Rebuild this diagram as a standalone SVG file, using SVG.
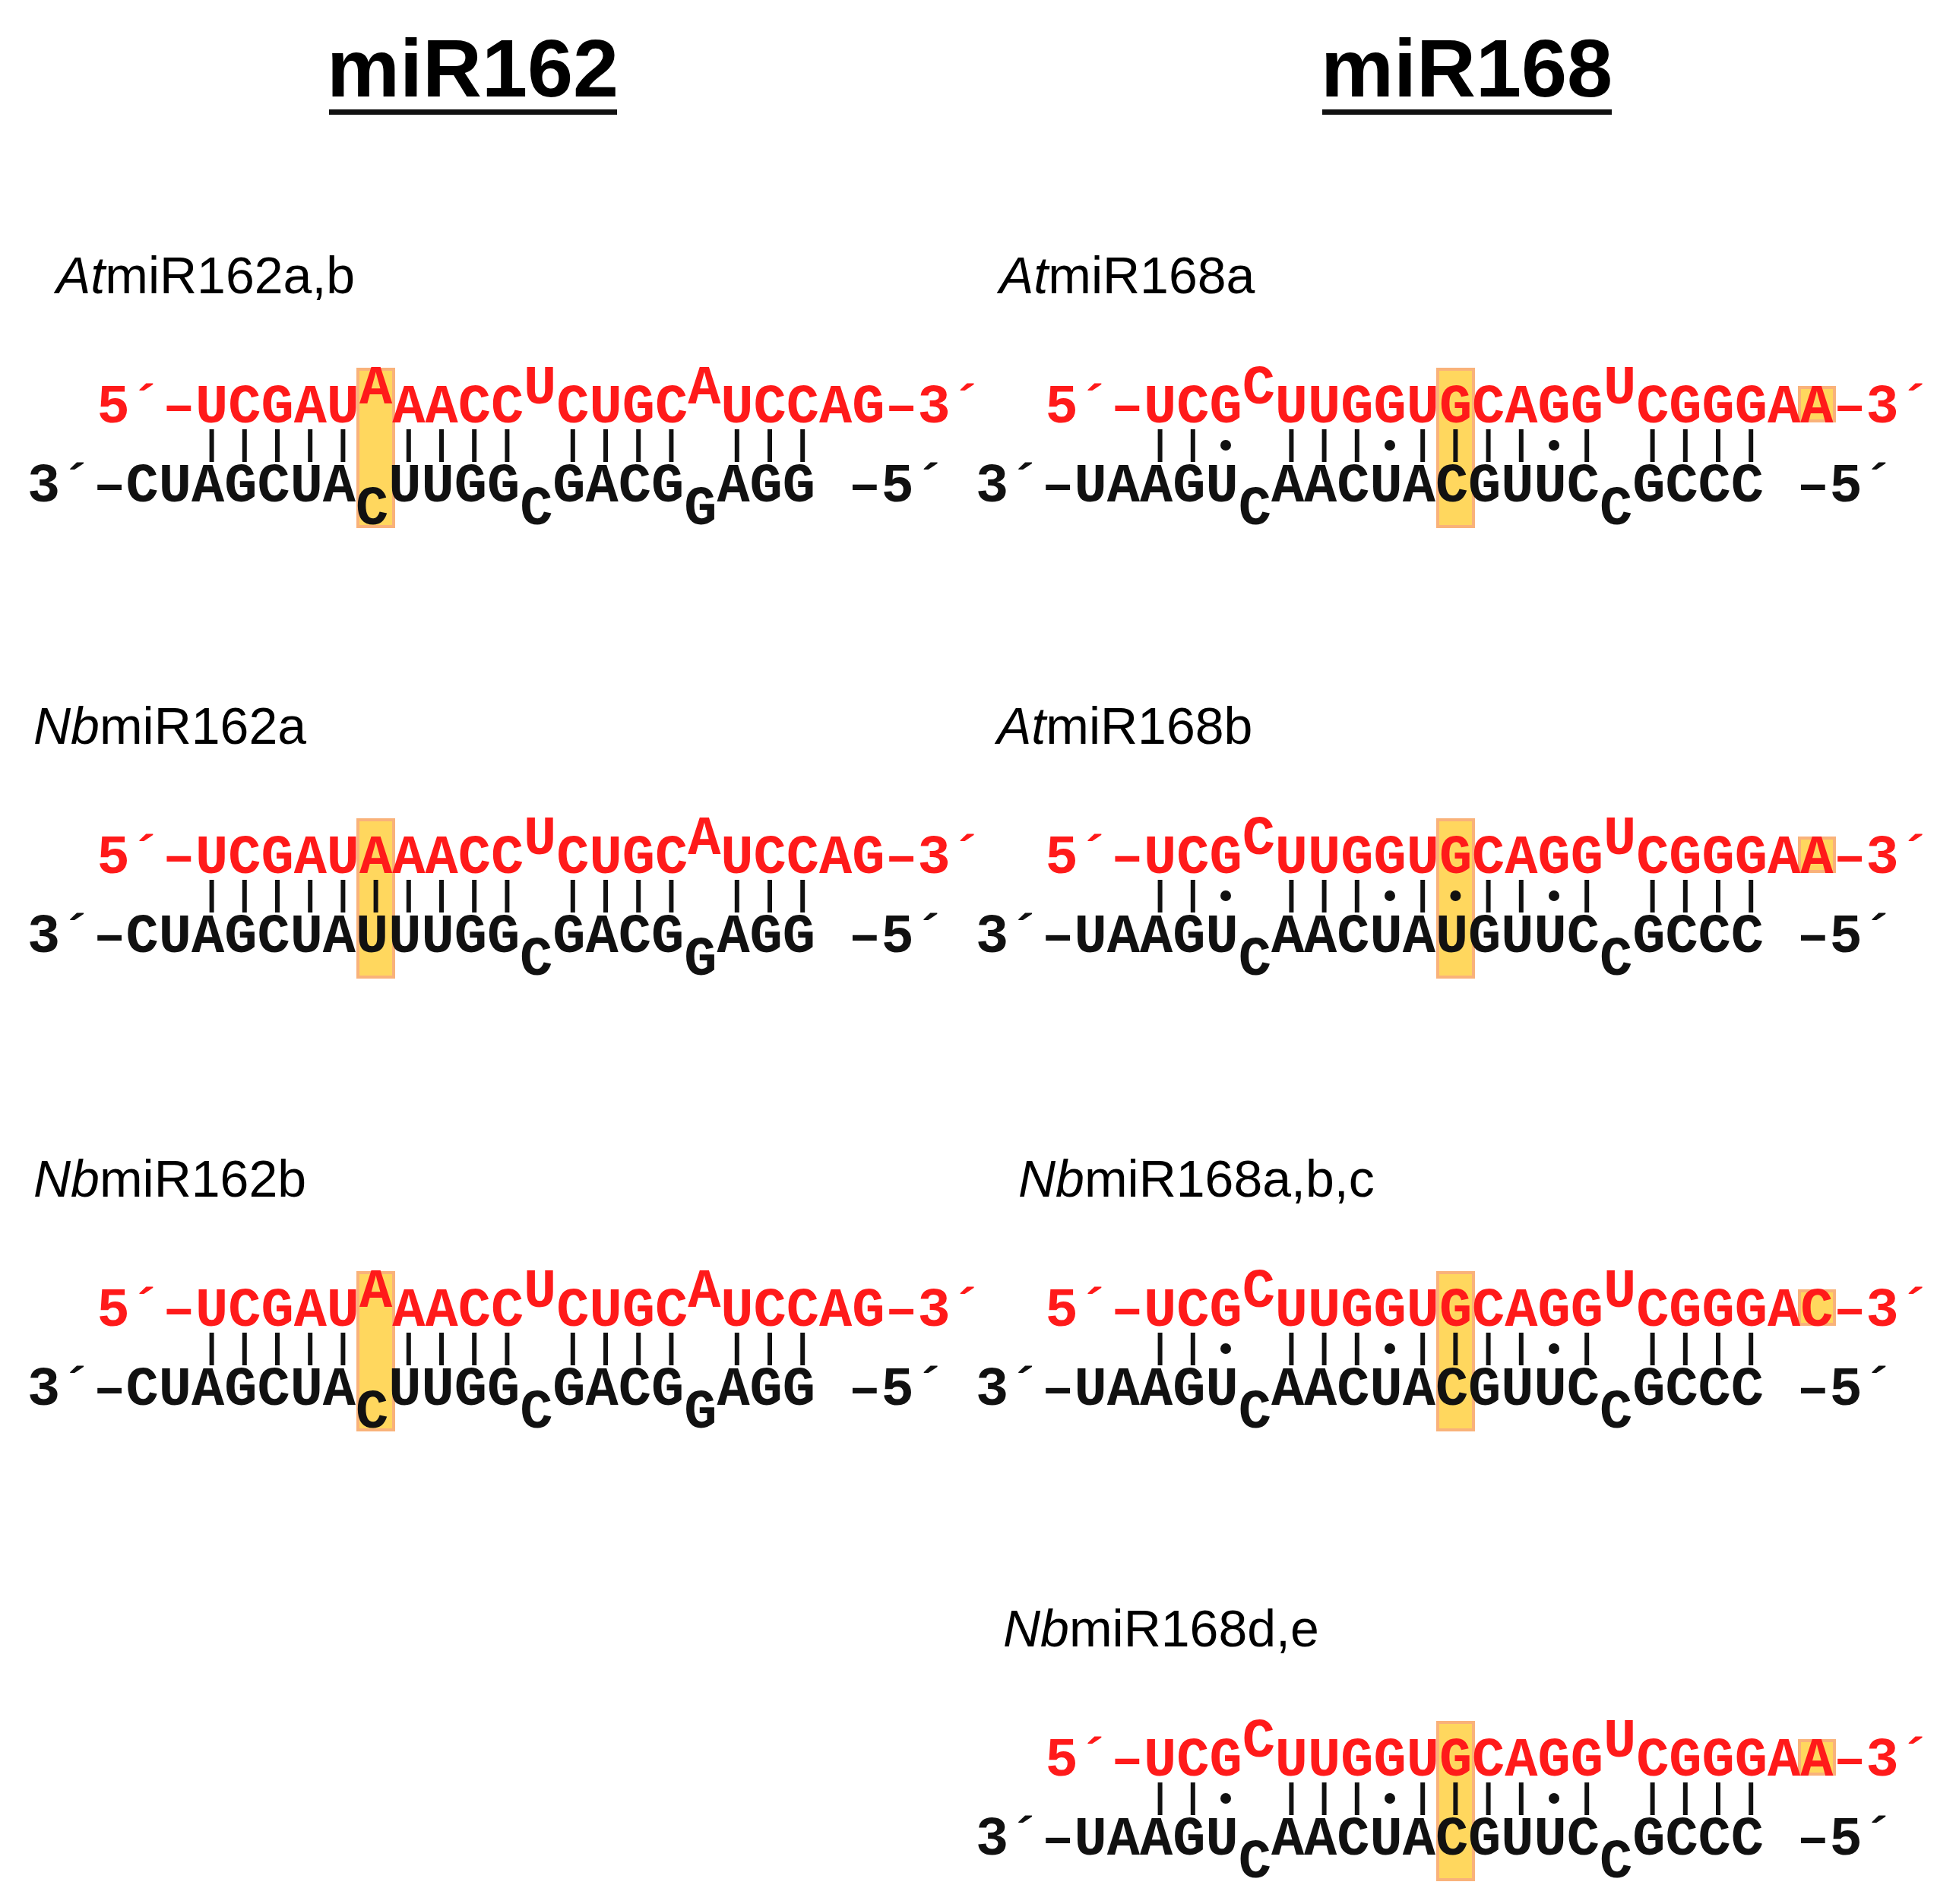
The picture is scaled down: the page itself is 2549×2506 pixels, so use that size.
<svg xmlns="http://www.w3.org/2000/svg" xmlns:xlink="http://www.w3.org/1999/xlink" width="2549" height="2506" viewBox="0 0 2549 2506">
<style>
.t{font-family:"Liberation Sans",Arial,sans-serif;font-weight:bold;font-size:108px;text-anchor:middle}
.l{font-family:"Liberation Sans",Arial,sans-serif;font-size:68px}
.s{font-family:"Liberation Mono","Courier New",monospace;font-weight:bold;font-size:72px}
.r{fill:#ff1a1a}
.k{fill:#111}
.hl{fill:#ffd75e;stroke:#f9b27a;stroke-width:4}
.bar{stroke:#111;stroke-width:6}
</style>
<defs>
<path id="b" class="bar" d="M0 565v43"/>
<circle id="d" cx="0" cy="586" r="7" fill="#111"/>
<g id="L1">
<rect class="hl" x="471" y="486" width="47" height="207"/>
<text class="s r" x="127.4" y="556">5´–UCGAU<tspan dy="-25">A</tspan><tspan dy="25">AACC</tspan><tspan dy="-25">U</tspan><tspan dy="25">CUGC</tspan><tspan dy="-25">A</tspan><tspan dy="25">UCCAG–3´</tspan></text>
<text class="s k" x="36" y="660">3´–CUAGCUA<tspan dy="30">C</tspan><tspan dy="-30">UUGG</tspan><tspan dy="30">C</tspan><tspan dy="-30">GACG</tspan><tspan dy="30">G</tspan><tspan dy="-30">AGG –5´</tspan></text>
</g>
<g id="L2">
<rect class="hl" x="471" y="486" width="47" height="207"/>
<text class="s r" x="127.4" y="556">5´–UCGAUAAACC<tspan dy="-25">U</tspan><tspan dy="25">CUGC</tspan><tspan dy="-25">A</tspan><tspan dy="25">UCCAG–3´</tspan></text>
<text class="s k" x="36" y="660">3´–CUAGCUAUUUGG<tspan dy="30">C</tspan><tspan dy="-30">GACG</tspan><tspan dy="30">G</tspan><tspan dy="-30">AGG –5´</tspan></text>
</g>
<g id="LB">
<use xlink:href="#b" x="278.6"/><use xlink:href="#b" x="321.8"/><use xlink:href="#b" x="365"/><use xlink:href="#b" x="408.2"/><use xlink:href="#b" x="451.4"/>
<use xlink:href="#b" x="537.8"/><use xlink:href="#b" x="581"/><use xlink:href="#b" x="624.2"/><use xlink:href="#b" x="667.4"/>
<use xlink:href="#b" x="753.8"/><use xlink:href="#b" x="797"/><use xlink:href="#b" x="840.2"/><use xlink:href="#b" x="883.4"/>
<use xlink:href="#b" x="969.8"/><use xlink:href="#b" x="1013"/><use xlink:href="#b" x="1056.2"/>
</g>
<g id="RB">
<use xlink:href="#b" x="1536.6"/><use xlink:href="#b" x="1579.8"/><use xlink:href="#d" x="1623"/>
<use xlink:href="#b" x="1709.4"/><use xlink:href="#b" x="1752.6"/><use xlink:href="#b" x="1795.8"/><use xlink:href="#d" x="1839"/><use xlink:href="#b" x="1882.2"/>
<use xlink:href="#b" x="1968.6"/><use xlink:href="#b" x="2011.8"/><use xlink:href="#d" x="2055"/><use xlink:href="#b" x="2098.2"/>
<use xlink:href="#b" x="2184.6"/><use xlink:href="#b" x="2227.8"/><use xlink:href="#b" x="2271"/><use xlink:href="#b" x="2314.2"/>
</g>
</defs>
<g id="titles">
<text class="t" x="622" y="127">miR162</text><rect x="433" y="144" width="379" height="7" fill="#111"/>
<text class="t" x="1930" y="127">miR168</text><rect x="1740" y="144" width="381" height="7" fill="#111"/>
</g>
<g id="AtmiR162ab">
<text class="l" x="74" y="386"><tspan font-style="italic">At</tspan>miR162a,b</text>
<use xlink:href="#L1"/><use xlink:href="#LB"/>
</g>
<g id="NbmiR162a" transform="translate(0,593)">
<text class="l" x="44" y="386"><tspan font-style="italic">Nb</tspan>miR162a</text>
<use xlink:href="#L2"/><use xlink:href="#LB"/><use xlink:href="#b" x="494.6"/>
</g>
<g id="NbmiR162b" transform="translate(0,1189)">
<text class="l" x="44" y="386"><tspan font-style="italic">Nb</tspan>miR162b</text>
<use xlink:href="#L1"/><use xlink:href="#LB"/>
</g>
<g transform="translate(-10,0)">
<g id="AtmiR168a">
<text class="l" x="1325" y="386"><tspan font-style="italic">At</tspan>miR168a</text>
<rect class="hl" x="1902" y="486" width="47" height="207"/>
<rect class="hl" x="2378" y="510" width="46" height="44"/>
<text class="s r" x="1385.4" y="556">5´–UCG<tspan dy="-25">C</tspan><tspan dy="25">UUGGUGCAGG</tspan><tspan dy="-25">U</tspan><tspan dy="25">CGGGAA–3´</tspan></text>
<text class="s k" x="1294" y="660">3´–UAAGU<tspan dy="30">C</tspan><tspan dy="-30">AACUACGUUC</tspan><tspan dy="30">C</tspan><tspan dy="-30">GCCC –5´</tspan></text>
<use xlink:href="#RB"/><use xlink:href="#b" x="1925.4"/>
</g>
<g id="AtmiR168b" transform="translate(0,593)">
<text class="l" x="1322" y="386"><tspan font-style="italic">At</tspan>miR168b</text>
<rect class="hl" x="1902" y="486" width="47" height="207"/>
<rect class="hl" x="2378" y="510" width="46" height="44"/>
<text class="s r" x="1385.4" y="556">5´–UCG<tspan dy="-25">C</tspan><tspan dy="25">UUGGUGCAGG</tspan><tspan dy="-25">U</tspan><tspan dy="25">CGGGAA–3´</tspan></text>
<text class="s k" x="1294" y="660">3´–UAAGU<tspan dy="30">C</tspan><tspan dy="-30">AACUAUGUUC</tspan><tspan dy="30">C</tspan><tspan dy="-30">GCCC –5´</tspan></text>
<use xlink:href="#RB"/><use xlink:href="#d" x="1925.4"/>
</g>
<g id="NbmiR168abc" transform="translate(0,1189)">
<text class="l" x="1350" y="386"><tspan font-style="italic">Nb</tspan>miR168a,b,c</text>
<rect class="hl" x="1902" y="486" width="47" height="207"/>
<rect class="hl" x="2378" y="510" width="46" height="44"/>
<text class="s r" x="1385.4" y="556">5´–UCG<tspan dy="-25">C</tspan><tspan dy="25">UUGGUGCAGG</tspan><tspan dy="-25">U</tspan><tspan dy="25">CGGGAC–3´</tspan></text>
<text class="s k" x="1294" y="660">3´–UAAGU<tspan dy="30">C</tspan><tspan dy="-30">AACUACGUUC</tspan><tspan dy="30">C</tspan><tspan dy="-30">GCCC –5´</tspan></text>
<use xlink:href="#RB"/><use xlink:href="#b" x="1925.4"/>
</g>
<g id="NbmiR168de" transform="translate(0,1781)">
<text class="l" x="1330" y="386"><tspan font-style="italic">Nb</tspan>miR168d,e</text>
<rect class="hl" x="1902" y="486" width="47" height="207"/>
<rect class="hl" x="2378" y="510" width="46" height="44"/>
<text class="s r" x="1385.4" y="556">5´–UCG<tspan dy="-25">C</tspan><tspan dy="25">UUGGUGCAGG</tspan><tspan dy="-25">U</tspan><tspan dy="25">CGGGAA–3´</tspan></text>
<text class="s k" x="1294" y="660">3´–UAAGU<tspan dy="30">C</tspan><tspan dy="-30">AACUACGUUC</tspan><tspan dy="30">C</tspan><tspan dy="-30">GCCC –5´</tspan></text>
<use xlink:href="#RB"/><use xlink:href="#b" x="1925.4"/>
</g>
</g>
</svg>
